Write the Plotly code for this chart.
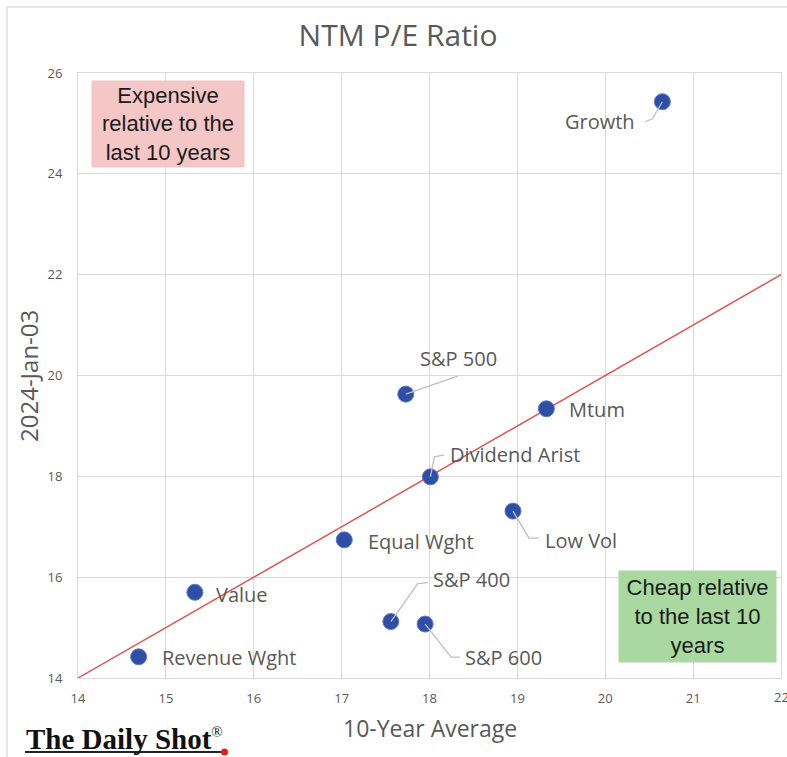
import plotly.graph_objects as go

# ---- data ----
names = ["Growth", "S&P 500", "Mtum", "Dividend Arist", "Low Vol",
         "Equal Wght", "Value", "Revenue Wght", "S&P 400", "S&P 600"]
ten_year_avg = [20.65, 17.73, 19.33, 18.01, 18.95, 17.03, 15.33, 14.69, 17.56, 17.95]
current_pe = [25.43, 19.63, 19.34, 17.99, 17.31, 16.74, 15.70, 14.42, 15.12, 15.07]
parity_x = [14, 22]
parity_y = [14, 22]
x_ticks = [14, 15, 16, 17, 18, 19, 20, 21, 22]
y_ticks = [14, 16, 18, 20, 22, 24, 26]

# ---- label placement (pixel offsets from each point) ----
# name: (xshift, yshift, xanchor, leader path in px relative to point or None)
label_style = {
    "Growth":         (-25, -20, "right", "M0,0 L-10,-17 L-17,-20"),
    "S&P 500":        (12, 36, "left", "M0,0 L52,18"),
    "Mtum":           (21, -1, "left", None),
    "Dividend Arist": (18, 22, "left", "M0,0 L4,20 L14,22"),
    "Low Vol":        (30, -29, "left", "M0,0 L16,-27 L26,-27"),
    "Equal Wght":     (22, -2, "left", None),
    "Value":          (19, -2, "left", None),
    "Revenue Wght":   (21, -1, "left", None),
    "S&P 400":        (40, 42, "left", "M0,0 L27,38 L37,39"),
    "S&P 600":        (38, -33, "left", "M0,0 L26,-33 L35,-33"),
}

W, H = 787, 757
L, R, T, B = 78, 6, 73, 79
PW, PH = W - L - R, H - T - B


def px(xp):
    return (xp - L) / PW


def py(yp):
    return (H - B - yp) / PH


fig = go.Figure()

fig.add_trace(go.Scatter(
    x=parity_x, y=parity_y, mode="lines",
    line=dict(color="#e05555", width=1.5),
    hoverinfo="skip", showlegend=False,
))

fig.add_trace(go.Scatter(
    x=ten_year_avg, y=current_pe, mode="markers",
    marker=dict(size=16, color="#2f4ea6", line=dict(color="#5f79c4", width=1)),
    text=names, hoverinfo="text", showlegend=False,
))

annotations = []
shapes = []
for n, xv, yv in zip(names, ten_year_avg, current_pe):
    xs, ys, xa, path = label_style[n]
    annotations.append(dict(
        x=xv, y=yv, xref="x", yref="y", text=n, showarrow=False,
        xanchor=xa, yanchor="middle", xshift=xs, yshift=ys,
        font=dict(family="Open Sans", size=20, color="#595959"),
    ))
    if path:
        shapes.append(dict(
            type="path", xref="x", yref="y", xsizemode="pixel", ysizemode="pixel",
            xanchor=xv, yanchor=yv, path=path,
            line=dict(color="#bfbfbf", width=1.3), layer="above",
        ))

# last x tick label, drawn where it runs off the right edge
annotations.append(dict(
    x=x_ticks[-1], xref="x", yref="paper", y=py(697), text=str(x_ticks[-1]),
    showarrow=False, xanchor="center", yanchor="middle",
    font=dict(family="Open Sans", size=13, color="#595959"),
))

# region boxes
annotations.append(dict(
    xref="paper", yref="paper", x=px(168), y=py(124), xanchor="center", yanchor="middle",
    text="Expensive<br>relative to the<br>last 10 years", showarrow=False,
    width=152, height=86, bgcolor="#f5c6c6", borderpad=0,
    font=dict(family="Liberation Sans", size=22, color="#1a1a1a"),
))
annotations.append(dict(
    xref="paper", yref="paper", x=px(697.5), y=py(616.5), xanchor="center", yanchor="middle",
    text="Cheap relative<br>to the last 10<br>years", showarrow=False,
    width=157, height=91, bgcolor="#a9d8a0", borderpad=0,
    font=dict(family="Liberation Sans", size=22, color="#1a1a1a"),
))

# axis titles
annotations.append(dict(
    xref="paper", yref="paper", x=px(430), y=py(728), xanchor="center", yanchor="middle",
    text="10-Year Average", showarrow=False,
    font=dict(family="Open Sans", size=23, color="#595959"),
))
annotations.append(dict(
    xref="paper", yref="paper", x=px(28), y=py(376), xanchor="center", yanchor="middle",
    text="2024-Jan-03", showarrow=False, textangle=-90,
    font=dict(family="Open Sans", size=24, color="#595959"),
))

# logo
annotations.append(dict(
    xref="paper", yref="paper", x=px(24), y=py(739), xanchor="left", yanchor="middle",
    text="<b>The Daily Shot</b><sup><span style='font-size:15px'>®</span></sup>", showarrow=False,
    font=dict(family="Liberation Serif", size=29, color="#111111"),
))
shapes.append(dict(type="line", xref="paper", yref="paper",
                   x0=px(25), x1=px(222), y0=py(752), y1=py(752),
                   line=dict(color="#222222", width=2)))
shapes.append(dict(type="circle", xref="paper", yref="paper",
                   x0=px(221), x1=px(228), y0=py(748.5), y1=py(755.5),
                   fillcolor="#e0201b", line=dict(width=0)))

# outer frame
shapes.append(dict(type="rect", xref="paper", yref="paper",
                   x0=px(7), x1=px(800), y0=py(7), y1=py(800),
                   line=dict(color="#d0d0d0", width=1), layer="below"))

fig.update_layout(
    width=W, height=H,
    margin=dict(l=L, r=R, t=T, b=B),
    paper_bgcolor="white", plot_bgcolor="white",
    title=dict(text="NTM P/E Ratio", x=398 / W, xref="container", xanchor="center",
               y=1 - 35 / H, yref="container", yanchor="middle",
               font=dict(family="Open Sans", size=30, color="#595959")),
    xaxis=dict(range=[14, 22], tickvals=x_ticks, showgrid=True, gridcolor="#d9d9d9",
               gridwidth=1, showline=True, linecolor="#d9d9d9", mirror=True,
               zeroline=False, ticks="", ticklabelstandoff=8,
               tickfont=dict(family="Open Sans", size=13, color="#595959")),
    yaxis=dict(range=[14, 26], tickvals=y_ticks, showgrid=True, gridcolor="#d9d9d9",
               gridwidth=1, showline=True, linecolor="#d9d9d9", mirror=True,
               zeroline=False, ticks="", ticklabelstandoff=12,
               tickfont=dict(family="Open Sans", size=13, color="#595959")),
    annotations=annotations,
    shapes=shapes,
)

fig.write_html(
    "out.html",
    config={"displayModeBar": False},
    post_script="document.body.style.margin='0';document.body.style.overflow='hidden';",
)
